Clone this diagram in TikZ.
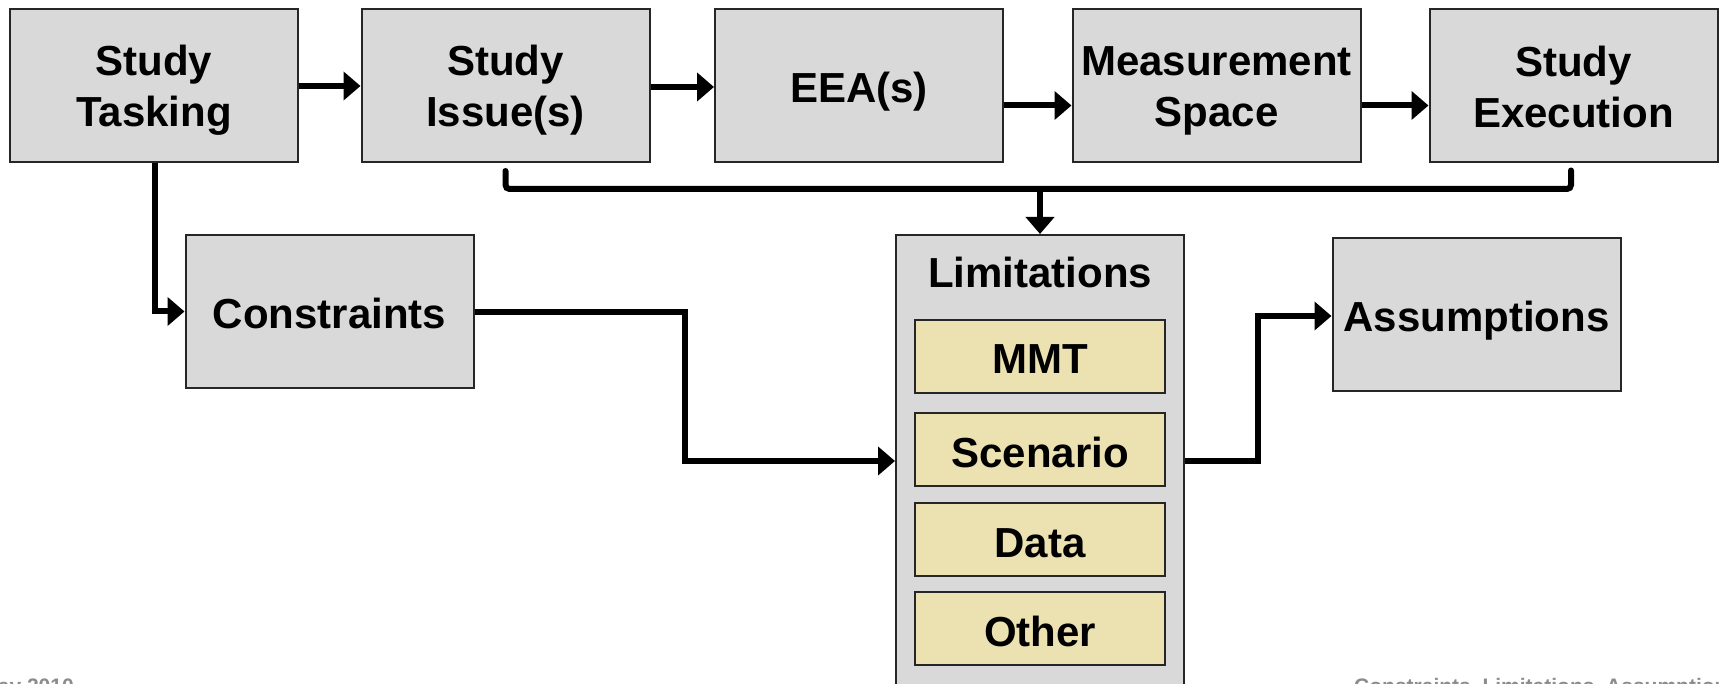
\documentclass[tikz,border=0pt]{standalone}
\usepackage{fontspec}
\setmainfont{Liberation Sans}
\usetikzlibrary{arrows.meta}
\definecolor{boxgray}{RGB}{217,217,217}
\definecolor{tanfill}{RGB}{236,225,176}
\definecolor{footgray}{RGB}{140,140,140}
\newcommand\twolines[2]{\rule{0pt}{41pt}#1\\#2\rule[-9pt]{0pt}{0pt}}
\tikzset{
  gbox/.style={draw=black!85, line width=2pt, fill=boxgray, inner sep=0pt,
    minimum width=288pt, minimum height=153pt, align=center,
    font=\fontsize{42}{51}\selectfont\bfseries},
  oneline/.style={text height=35pt, text depth=0pt},
  tbox/.style={draw=black!85, line width=2pt, fill=tanfill, inner sep=0pt,
    minimum width=250pt, minimum height=73pt, oneline,
    font=\fontsize{42}{51}\selectfont\bfseries},
  conn/.style={line width=6pt, black},
  arr/.style={conn, -{Triangle[length=17pt,width=28pt]}},
  foot/.style={font=\fontsize{21}{25}\selectfont\bfseries, text=footgray, inner sep=0pt}
}
\begin{document}
\begin{tikzpicture}[x=1pt,y=-1pt]
\useasboundingbox (0,0) rectangle (1719,684);
\clip (0,0) rectangle (1719,684);
% top row
\node[gbox] (task) at (154,85.5) {\twolines{Study}{Tasking}};
\node[gbox] (issue) at (505.5,85.5) {\twolines{Study}{Issue(s)}};
\node[gbox, oneline] (eea) at (859,85.5) {EEA(s)};
\node[gbox] (meas) at (1216.5,85.5) {\twolines{Measurement}{Space}};
\node[gbox] (exec) at (1573.5,86) {\twolines{Study}{Execution}};
% second row
\node[gbox, oneline] (cons) at (329.5,311.5) {Constraints};
\node[gbox, oneline] (assum) at (1476.5,314.5) {Assumptions};
% limitations
\node[gbox, minimum height=505pt] (lim) at (1040,487.5) {};
\node[font=\fontsize{42}{51}\selectfont\bfseries, inner sep=0pt] (limtitle) at (1040,272) {Limitations};
\node[tbox] (mmt) at (1040,356.5) {MMT};
\node[tbox] (scen) at (1040,449.5) {Scenario};
\node[tbox] (data) at (1040,539.5) {Data};
\node[tbox] (other) at (1040,628.5) {Other};
% top-row arrows
\draw[arr] ([yshift=-0.5pt]task.east) -- ([yshift=-0.5pt]issue.west);
\draw[arr] ([yshift=-1.5pt]issue.east) -- ([yshift=-1.5pt]eea.west);
\draw[arr] ([yshift=-20pt]eea.east) -- ([yshift=-20pt]meas.west);
\draw[arr] ([yshift=-20pt]meas.east) -- ([yshift=-19.5pt]exec.west);
% tasking to constraints
\draw[arr] ([xshift=1pt]task.south) |- (cons.west);
% bracket
\coordinate (bl) at ([yshift=-8pt]issue.south);
\coordinate (br) at ([xshift=-2.5pt,yshift=-7pt]exec.south);
\coordinate (junc) at (lim.north |- 0,189);
\draw[conn, line cap=round, rounded corners=4pt] (bl) |- (junc) -| (br);
\draw[arr] (junc) -- (lim.north);
% constraints to limitations
\coordinate (cturn) at (685,461);
\draw[arr] ([yshift=-0.5pt]cons.east) -| (cturn) -- (cturn -| lim.west);
% limitations to assumptions
\coordinate (aturn) at (1258,461);
\draw[arr] (aturn -| lim.east) -- (aturn) |- ([yshift=-1.5pt]assum.west);
% footer (cut by the picture's edge)
\node[foot, anchor=base east] (footl) at (74,693) {May 2010};
\node[foot, anchor=base west] (footr) at (1354,693) {Constraints, Limitations, Assumptions};
\end{tikzpicture}
\end{document}
